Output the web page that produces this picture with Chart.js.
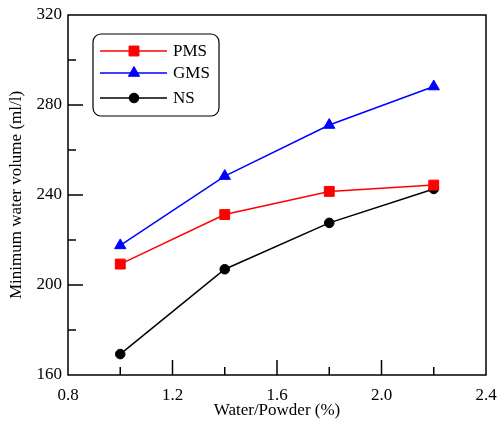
<!DOCTYPE html>
<html>
<head>
<meta charset="utf-8">
<script src="https://cdn.jsdelivr.net/npm/chart.js@4/dist/chart.umd.min.js"></script>
<style>
  html, body { margin: 0; padding: 0; background: #fff; }
  #wrap { width: 497px; height: 425px; }
</style>
</head>
<body>
<div id="wrap"><canvas id="waterChart"></canvas></div>
<script>
const ratios = [1.0, 1.4, 1.8, 2.2];
const pmsValues = [209.3, 231.3, 241.6, 244.4];
const gmsValues = [217.6, 248.4, 271.1, 288.2];
const nsValues = [169.3, 207.0, 227.6, 242.7];
const xTicks = [0.8, 1.2, 1.6, 2.0, 2.4];
const yTicks = [160, 200, 240, 280, 320];

const serif = 'Liberation Serif';

function toPoints(ys) {
    return ratios.map((x, i) => ({ x: x, y: ys[i] }));
}

// ticks drawn inward, major + minor halfway between
const insideTicks = {
    id: 'insideTicks',
    afterDraw(chart) {
        const ctx = chart.ctx;
        const area = chart.chartArea;
        const xs = chart.scales.x;
        const ys = chart.scales.y;
        ctx.save();
        ctx.strokeStyle = '#000';
        ctx.lineWidth = 1.5;
        ctx.strokeRect(area.left, area.top, area.right - area.left, area.bottom - area.top);
        ctx.beginPath();
        for (let i = 0; i < xTicks.length; i++) {
            const px = xs.getPixelForValue(xTicks[i]);
            if (i > 0 && i < xTicks.length - 1) {
                ctx.moveTo(px, area.bottom);
                ctx.lineTo(px, area.bottom - 15);
            }
            if (i < xTicks.length - 1) {
                const mx = xs.getPixelForValue((xTicks[i] + xTicks[i + 1]) / 2);
                ctx.moveTo(mx, area.bottom);
                ctx.lineTo(mx, area.bottom - 8);
            }
        }
        for (let i = 0; i < yTicks.length; i++) {
            const py = ys.getPixelForValue(yTicks[i]);
            if (i > 0 && i < yTicks.length - 1) {
                ctx.moveTo(area.left, py);
                ctx.lineTo(area.left + 15, py);
            }
            if (i < yTicks.length - 1) {
                const my = ys.getPixelForValue((yTicks[i] + yTicks[i + 1]) / 2);
                ctx.moveTo(area.left, my);
                ctx.lineTo(area.left + 8, my);
            }
        }
        ctx.stroke();

        // legend box
        const bx = 93, by = 34, bw = 126, bh = 82;
        ctx.lineWidth = 1.2;
        ctx.beginPath();
        ctx.roundRect(bx, by, bw, bh, 8);
        ctx.fillStyle = '#fff';
        ctx.fill();
        ctx.stroke();
        const rowsY = [51, 73, 98];
        ctx.font = '17px "' + serif + '"';
        ctx.textBaseline = 'middle';
        chart.data.datasets.forEach((ds, i) => {
            const y = rowsY[i];
            ctx.strokeStyle = ds.borderColor;
            ctx.fillStyle = ds.backgroundColor;
            ctx.lineWidth = 1.5;
            ctx.beginPath();
            ctx.moveTo(100, y);
            ctx.lineTo(167, y);
            ctx.stroke();
            ctx.lineWidth = 1;
            Chart.helpers.drawPoint(ctx, {
                pointStyle: ds.pointStyle,
                radius: ds.pointRadius,
                borderWidth: 1
            }, 134, y);
            ctx.fillStyle = '#000';
            ctx.fillText(ds.label, 173, y + 1);
        });
        ctx.restore();
    }
};

function series(label, color, style, radius, ys) {
    return {
        label: label,
        data: toPoints(ys),
        showLine: true,
        borderColor: color,
        backgroundColor: color,
        borderWidth: 1.5,
        pointStyle: style,
        pointRadius: radius,
        pointHoverRadius: radius,
        pointBorderWidth: 1
    };
}

new Chart(document.getElementById('waterChart'), {
    type: 'scatter',
    data: {
        datasets: [
            series('PMS', '#ff0000', 'rect', 7, pmsValues),
            series('GMS', '#0000ff', 'triangle', 6.5, gmsValues),
            series('NS', '#000000', 'circle', 4.8, nsValues)
        ]
    },
    options: {
        responsive: true,
        maintainAspectRatio: false,
        animation: false,
        layout: { padding: { left: 0, top: 15, right: 11, bottom: 0 } },
        plugins: { legend: { display: false }, tooltip: { enabled: false } },
        scales: {
            x: {
                type: 'linear',
                min: 0.8,
                max: 2.4,
                afterBuildTicks: (s) => { s.ticks = xTicks.map(v => ({ value: v })); },
                afterFit: (s) => { s.height = 50; s.paddingLeft = 0; s.paddingRight = 0; },
                grid: { display: false, drawTicks: false },
                border: { display: false },
                ticks: {
                    padding: 10,
                    color: '#000',
                    font: { family: serif, size: 17 },
                    maxRotation: 0,
                    callback: (v) => v.toFixed(1)
                },
                title: {
                    display: true,
                    text: 'Water/Powder (%)',
                    color: '#000',
                    font: { family: serif, size: 17 },
                    padding: { top: 0, bottom: 4 }
                }
            },
            y: {
                type: 'linear',
                min: 160,
                max: 320,
                afterBuildTicks: (s) => { s.ticks = yTicks.map(v => ({ value: v })); },
                afterFit: (s) => { s.width = 68; s.paddingTop = 0; s.paddingBottom = 0; },
                grid: { display: false, drawTicks: false },
                border: { display: false },
                ticks: {
                    padding: 6,
                    color: '#000',
                    font: { family: serif, size: 17 }
                },
                title: {
                    display: true,
                    text: 'Minimum water volume (ml/l)',
                    color: '#000',
                    font: { family: serif, size: 17 },
                    padding: { top: 6, bottom: 0 }
                }
            }
        }
    },
    plugins: [insideTicks]
});
</script>
</body>
</html>
